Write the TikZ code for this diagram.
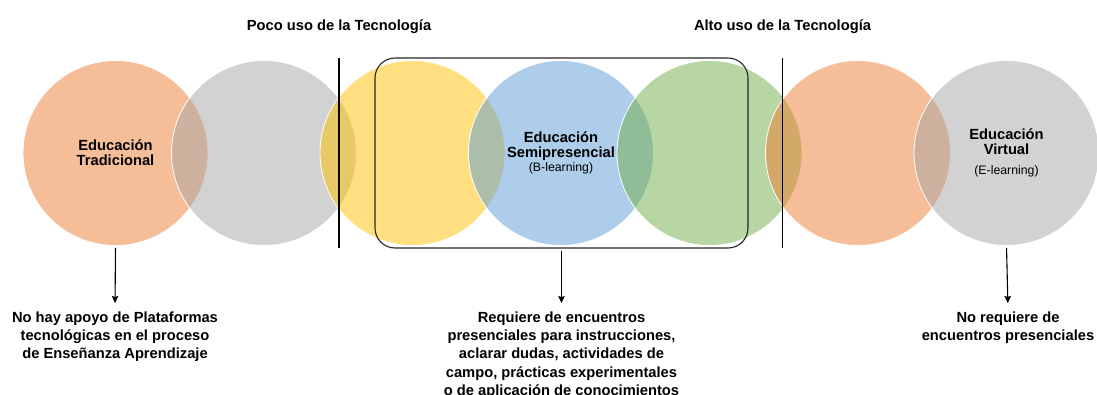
\documentclass[tikz,border=0pt]{standalone}
\usepackage{fontspec}
\setmainfont{Liberation Sans}
\usetikzlibrary{arrows.meta,positioning}

\definecolor{naranja}{HTML}{ED7D31}
\definecolor{gris}{HTML}{A5A5A5}
\definecolor{amarillo}{HTML}{FFC000}
\definecolor{azul}{HTML}{5B9BD5}
\definecolor{verde}{HTML}{70AD47}

\begin{document}
\begin{tikzpicture}[x=1pt,y=-1pt,
  circulo/.style={circle,minimum size=185pt,inner sep=0pt,draw=white,line width=0.8pt,
    fill opacity=0.5,text opacity=1,align=center,font=\bfseries\fontsize{14.7}{14.7}\selectfont},
  titulo/.style={anchor=base,font=\bfseries\fontsize{14.7}{17}\selectfont},
  nota/.style={anchor=north,align=center,inner sep=2pt,font=\bfseries\fontsize{14.7}{18.25}\selectfont},
  flecha/.style={-{Stealth[length=7pt,width=6.5pt,inset=1pt]},line width=1.1pt,shorten <=2pt,shorten >=6.5pt}]
\useasboundingbox (0,0) rectangle (1097,394);
% circulos
\node[circulo,fill=naranja] (trad) at (115.5,153) {Educación\\Tradicional};
\node[circulo,fill=gris] (gris1) at (264,153) {};
\node[circulo,fill=amarillo] (amar) at (412.5,153) {};
\node[circulo,fill=azul] (semi) at (561,153)
  {Educación\\Semipresencial\\{\mdseries\fontsize{12.3}{14}\selectfont(B-learning)}};
\node[circulo,fill=verde] (verde) at (709.5,153) {};
\node[circulo,fill=naranja] (naran2) at (858,153) {};
\node[circulo,fill=gris] (virt) at (1006.5,153)
  {Educación\\Virtual\\[5pt]{\mdseries\fontsize{12.3}{14}\selectfont(E-learning)}};
% marco y separadores
\node[draw=black!85,rounded corners=20pt,line width=1.1pt,minimum width=373pt,minimum height=190pt] (marco) at (561.5,153) {};
\draw[line width=1.1pt] (339,58) -- (339,248)
      (782.5,58) -- (782.5,248);
% titulos
\node[titulo] (poco) at (339,30.3) {Poco uso de la Tecnología};
\node[titulo] (alto) at (782.5,30.3) {Alto uso de la Tecnología};
% notas
\node[nota] (nota1) at (115,309.5) {No hay apoyo de Plataformas\\tecnológicas en el proceso\\de Enseñanza Aprendizaje};
\node[nota] (nota2) at (561.5,309.5) {Requiere de encuentros\\presenciales para instrucciones,\\aclarar dudas, actividades de\\campo, prácticas experimentales\\o de aplicación de conocimientos};
\node[nota] (nota3) at (1008,309.5) {No requiere de\\encuentros presenciales};
\draw[flecha] (trad.south) -- (nota1.north);
\draw[flecha] (marco.south) -- (nota2.north);
\draw[flecha] (virt.south) -- (nota3.north);
\end{tikzpicture}
\end{document}
